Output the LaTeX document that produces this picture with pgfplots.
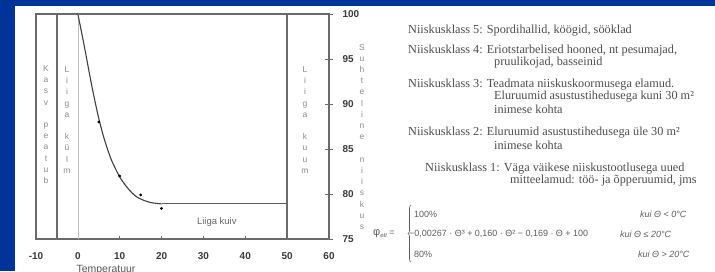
\documentclass[border=0pt]{standalone}
\usepackage{fontspec}
\setmainfont{Liberation Sans}
\newfontfamily\seriffont{Liberation Serif}
\usepackage{pgfplots}
\pgfplotsset{compat=1.18}
\usetikzlibrary{decorations.pathreplacing}
\definecolor{slideblue}{HTML}{003399}
\definecolor{axgray}{HTML}{6A6A6A}
\definecolor{ticklab}{HTML}{3A3A3A}
\definecolor{lettergray}{HTML}{8C8C8C}
\definecolor{curvegray}{HTML}{404040}
\definecolor{textgray}{HTML}{4E4E4E}
\definecolor{formgray}{HTML}{5E5E5E}
\newcommand\ly[1]{\fontsize{#1}{11.25}\selectfont}
\begin{document}
\begin{tikzpicture}[x=1bp,y=1bp]
\fill[slideblue] (0,0) rectangle (715,271);
\fill[white] (15,0) rectangle (715,265);
\begin{axis}[
  at={(36bp,32bp)}, anchor=south west,
  scale only axis, width=293bp, height=225bp,
  xmin=-10, xmax=60, ymin=75, ymax=100,
  xtick={-10,0,10,20,30,40,50,60},
  ytick={75,80,85,90,95,100},
  xtick pos=bottom, ytick pos=right, yticklabel pos=right,
  tick align=center, major tick length=8bp,
  xtick style={draw=none},
  ytick style={axgray, line width=0.7bp},
  axis line style={axgray, line width=1.4bp},
  /pgf/number format/assume math mode=true,
  tick label style={font=\bfseries\fontsize{10}{11}\selectfont, text=ticklab},
  xticklabel style={yshift=-6bp},
  yticklabel style={xshift=6bp},
  axis background/.style={fill=white},
  clip=false,
]
% structural lines
\addplot[axgray, line width=1.4bp] coordinates {(-5,75) (-5,100)};
\addplot[black!25, line width=0.6bp] coordinates {(0,75) (0,100)};
\addplot[axgray, line width=1.4bp] coordinates {(50,75) (50,100)};
% small x ticks (inside)
\addplot[axgray, line width=0.6bp] coordinates {(10,75) (10,75.35)};
\addplot[axgray, line width=0.6bp] coordinates {(20,75) (20,75.35)};
\addplot[axgray, line width=0.6bp] coordinates {(30,75) (30,75.35)};
\addplot[axgray, line width=0.6bp] coordinates {(40,75) (40,75.35)};
% curve
\addplot[curvegray, line width=1.1bp, smooth] coordinates {
 (0,100) (1,97.7) (2,95.3) (3,92.8) (4,90.5) (5,88.4) (6,86.6) (7,85.1)
 (8,83.8) (9,82.8) (10,81.9) (11,81.2) (12,80.6) (13,80.1) (14,79.7)
 (15,79.45) (16,79.25) (17,79.1) (18,79.0) (19,78.95) (20,78.9)};
\addplot[curvegray!85, line width=1.1bp] coordinates {(20,78.9) (50,78.9)};
% measured points
\addplot[only marks, mark=*, mark size=1.2bp, black] coordinates {
 (5,88.0) (10,82.0) (15,79.9) (20,78.4)};
\node[font=\fontsize{9.5}{10}\selectfont, text=black!60] at (axis cs:33.2,76.9) {Liiga kuiv};
\end{axis}
% stacked letters
\node[anchor=north, inner sep=0, align=center, text=lettergray, font=\ly{8.5}] at (46,205.5)
 {K\\a\\s\\v\\~\\p\\e\\a\\t\\u\\b};
\node[anchor=north, inner sep=0, align=center, text=lettergray, font=\ly{8.5}] at (67,204.5)
 {L\\i\\i\\g\\a\\~\\k\\ü\\l\\m};
\node[anchor=north, inner sep=0, align=center, text=lettergray, font=\ly{8.5}] at (305,204.5)
 {L\\i\\i\\g\\a\\~\\k\\u\\u\\m};
\node[anchor=north, inner sep=0, align=center, text=lettergray, font=\ly{8.5}] at (362,227)
 {S\\u\\h\\t\\e\\l\\i\\n\\e\\~\\n\\i\\i\\s\\k\\u\\s};
\node[text=black!65, font=\fontsize{10.5}{11}\selectfont, inner sep=0] at (106,1) {Temperatuur};
% right-hand text
\begin{scope}[every node/.style={anchor=west, inner sep=0, text=textgray, font=\seriffont\fontsize{12.3}{13}\selectfont}]
\node at (408,240) {Niiskusklass 5: Spordihallid, köögid, sööklad};
\node at (408,220.5) {Niiskusklass 4: Eriotstarbelised hooned, nt pesumajad,};
\node at (494,208) {pruulikojad, basseinid};
\node at (408,186) {Niiskusklass 3: Teadmata niiskuskoormusega elamud.};
\node at (494,174) {Eluruumid asustustihedusega kuni 30 m²};
\node at (494,162) {inimese kohta};
\node at (408,138.5) {Niiskusklass 2: Eluruumid asustustihedusega üle 30 m²};
\node at (494,126) {inimese kohta};
\node at (425,102.5) {Niiskusklass 1: Väga väikese niiskustootlusega uued};
\node at (510,90) {mitteelamud: töö- ja õpperuumid, jms};
\end{scope}
% formula
\begin{scope}[every node/.style={anchor=west, inner sep=0, text=formgray, font=\fontsize{9}{10}\selectfont}]
\node at (373,37) {{\fontsize{11}{11}\selectfont φ}\raisebox{-2bp}{\fontsize{6}{6}\selectfont\itshape ett} =};
\node at (414,57) {100\%};
\node at (409,37) {−0,00267 · Θ³ + 0,160 · Θ² − 0,169 · Θ + 100};
\node at (414,17) {80\%};
\node at (640,57) {\itshape kui Θ < 0°C};
\node at (620,37) {\itshape kui Θ ≤ 20°C};
\node at (638,17) {\itshape kui Θ > 20°C};
\end{scope}
\draw[formgray, line width=0.6bp, decorate, decoration={brace, amplitude=3bp}] (411,9) -- (411,66);
\pgfresetboundingbox
\useasboundingbox (0,0) rectangle (715,271);
\end{tikzpicture}
\end{document}
